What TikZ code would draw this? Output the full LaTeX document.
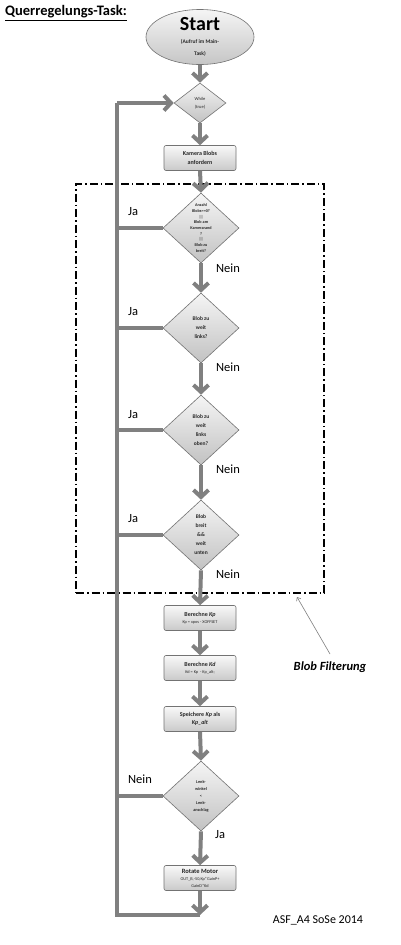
\documentclass[tikz,border=0pt]{standalone}
\usepackage{fontspec}
\setmainfont{Carlito}
\usetikzlibrary{shapes.geometric,arrows.meta}
\definecolor{flowgray}{RGB}{128,128,128}
\definecolor{boxedge}{RGB}{115,115,115}
\definecolor{txtgray}{RGB}{40,40,40}
\begin{document}
\begin{tikzpicture}[x=1pt,y=-1pt,
  flow/.style={draw=flowgray,line width=4pt,-{Straight Barb[length=7pt,width=15pt]}},
  link/.style={draw=flowgray,line width=4pt},
  procbox/.style={draw=boxedge,line width=0.6pt,rounded corners=2pt,top color=gray!5,bottom color=gray!42,
    minimum width=72pt,minimum height=25pt,inner sep=1pt,align=center,text=txtgray,
    font=\fontsize{6}{8.5}\selectfont\bfseries},
  decision/.style={diamond,draw=boxedge,line width=0.6pt,top color=gray!8,bottom color=gray!48,
    minimum width=76pt,minimum height=70pt,inner sep=0pt,align=center,text=txtgray,
    font=\fontsize{5.5}{9}\selectfont\bfseries},
  small/.style={font=\fontsize{4.3}{6}\selectfont\mdseries},
  lbl/.style={font=\fontsize{12.5}{14}\selectfont,text=black}
]
\useasboundingbox (0,0) rectangle (400,945);
\fill[white] (0,0) rectangle (400,945);

% title
\node[anchor=west,inner sep=0pt,font=\fontsize{14.5}{16}\selectfont\bfseries] (title) at (5,13) {\underline{Querregelungs-Task:}};

% start
\node[ellipse,draw=boxedge,line width=0.6pt,top color=gray!8,bottom color=gray!45,
  minimum width=108pt,minimum height=42pt,inner sep=0pt,align=center,text=black] (start) at (200,37)
  {{\fontsize{20}{20}\selectfont\bfseries Start}\\[1pt]{\fontsize{5.5}{7}\selectfont\bfseries\color{txtgray}(Aufruf im Main-}\\{\fontsize{5.5}{7}\selectfont\bfseries\color{txtgray}Task)}};

% while
\node[decision,minimum width=52pt,minimum height=40pt,font=\fontsize{4.5}{8}\selectfont] (while) at (200,103) {While\\(true)};

\node[procbox] (kamera) at (200,158) {Kamera Blobs\\anfordern};

% filter frame
\node[draw=black,line width=1.2pt,dash pattern=on 8pt off 3pt on 1.5pt off 3pt,
  minimum width=248pt,minimum height=409pt,inner sep=0pt] (fbox) at (200,388.5) {};

\node[decision,font=\fontsize{4.2}{5.7}\selectfont\bfseries] (d1) at (201,228)
  {Anzahl\\Blobs==0?\\||\\Blob am\\Kamerarand\\?\\||\\Blob zu\\breit?};
\node[decision] (d2) at (201,328) {Blob zu\\weit\\links?};
\node[decision] (d3) at (201,430) {Blob zu\\weit\\links\\oben?};
\node[decision] (d4) at (201,535) {Blob\\breit\\\&\&\\weit\\unten};

\node[procbox] (kp) at (200,618) {Berechne \textit{Kp}\\[-1.5pt]{\fontsize{4.3}{6}\selectfont\mdseries Kp = xpos - XOFFSET}};
\node[procbox] (kd) at (200,668) {Berechne \textit{Kd}\\[-1.5pt]{\fontsize{4.3}{6}\selectfont\mdseries Kd = Kp \ - Kp\_alt;}};
\node[procbox] (sp) at (200,719) {Speichere \textit{Kp} als\\\textit{Kp\_alt}};

\node[decision,font=\fontsize{4.3}{7}\selectfont\bfseries] (lenk) at (201,796) {Lenk-\\winkel\\<\\Lenk-\\anschlag};

\node[procbox] (rot) at (200,878) {{\fontsize{6.5}{8}\selectfont Rotate Motor}\\[-1.5pt]{\fontsize{4.3}{6}\selectfont\mdseries OUT\_B,-50,Kp*GainP+}\\[-1.5pt]{\fontsize{4.3}{6}\selectfont\mdseries GainD*Kd}};

% loop coordinates
\coordinate (bl) at (117,915);
\coordinate (br) at (200,915);
\coordinate (tl) at (117,103);

% main flow
\draw[flow] (start.south) -- (while.north);
\draw[flow] (while.south) -- (kamera.north);
\draw[flow] (kamera.south) -- (d1.north);
\draw[flow] (d1.south) -- (d2.north);
\draw[flow] (d2.south) -- (d3.north);
\draw[flow] (d3.south) -- (d4.north);
\draw[flow] (d4.south) -- (kp.north);
\draw[flow] (kp.south) -- (kd.north);
\draw[flow] (kd.south) -- (sp.north);
\draw[flow] (sp.south) -- (lenk.north);
\draw[flow] (lenk.south) -- (rot.north);
\draw[flow] (rot.south) -- (br);

% loop back
\draw[link,line join=miter] (br) -- (bl) -- (tl);
\draw[flow] (tl) -- (while.west);
\draw[link] (d1.west) -- (d1.west -| bl);
\draw[link] (d2.west) -- (d2.west -| bl);
\draw[link] (d3.west) -- (d3.west -| bl);
\draw[link] (d4.west) -- (d4.west -| bl);
\draw[link] (lenk.west) -- (lenk.west -| bl);

% labels
\node[lbl] (ja1) at (133,212) {Ja};
\node[lbl] (ja2) at (133,312) {Ja};
\node[lbl] (ja3) at (133,415) {Ja};
\node[lbl] (ja4) at (133,519) {Ja};
\node[lbl] (nein1) at (228,268) {Nein};
\node[lbl] (nein2) at (228,367) {Nein};
\node[lbl] (nein3) at (228,469) {Nein};
\node[lbl] (nein4) at (228,574) {Nein};
\node[lbl] (nein5) at (140,779) {Nein};
\node[lbl] (ja5) at (220,835) {Ja};

% annotation
\node[font=\fontsize{12.5}{14}\selectfont\bfseries\itshape] (filt) at (330,667) {Blob Filterung};
\coordinate (ftip) at (297,597);
\draw[draw=flowgray,line width=0.6pt,-{Straight Barb[length=3pt,width=5pt]}] (330,654) -- (ftip);

\node[font=\fontsize{12}{14}\selectfont] (asf) at (318,920) {ASF\_A4 SoSe 2014};
\end{tikzpicture}
\end{document}
